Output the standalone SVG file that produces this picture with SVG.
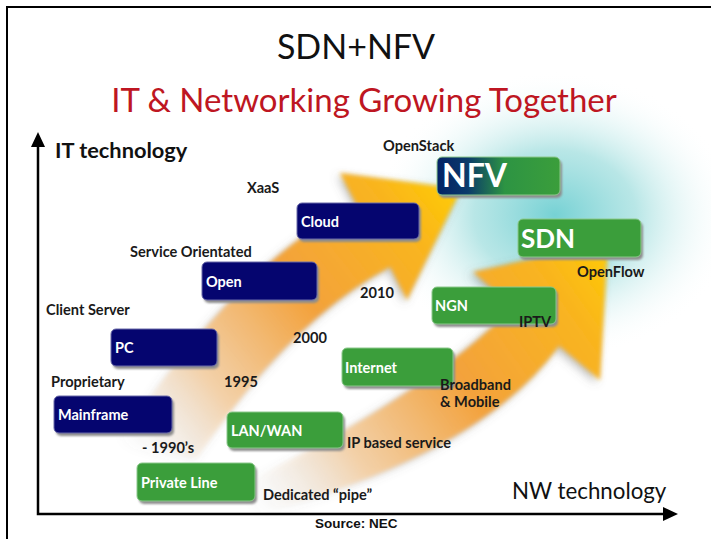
<svg xmlns="http://www.w3.org/2000/svg" width="711" height="539" viewBox="0 0 711 539">
<defs>
<style>
.lbl{font-family:Lato,"Open Sans","DejaVu Sans",sans-serif;font-weight:bold;font-size:14.6px;fill:#1a1a1a}
.nl{font-family:Lato,"Open Sans","DejaVu Sans",sans-serif;font-weight:bold;font-size:14.5px;fill:#fff}
.navy{fill:#05056f;stroke:#6b6ba8;stroke-width:1}
.green{fill:#3b9e3b;stroke:#8cc88c;stroke-width:1}
.shd{fill:#8d8d8d;filter:url(#bl)}
.axis{stroke:#000;stroke-width:2.5;fill:none}
</style>
<filter id="bl" x="-20%" y="-20%" width="140%" height="140%"><feGaussianBlur stdDeviation="1.2"/></filter>
<filter id="soft" x="-20%" y="-20%" width="140%" height="140%"><feGaussianBlur stdDeviation="2"/></filter>
<filter id="shadowblur" x="-20%" y="-20%" width="140%" height="140%"><feGaussianBlur stdDeviation="5"/></filter>
<radialGradient id="teal" cx="555" cy="215" r="180" gradientUnits="userSpaceOnUse" gradientTransform="translate(555 215) scale(1 0.8) translate(-555 -215)">
<stop offset="0" stop-color="#6fcfd2" stop-opacity="0.95"/>
<stop offset="0.45" stop-color="#9adcdc" stop-opacity="0.7"/>
<stop offset="1" stop-color="#ffffff" stop-opacity="0"/>
</radialGradient>
<linearGradient id="g1" gradientUnits="userSpaceOnUse" x1="130" y1="450" x2="460" y2="190">
<stop offset="0" stop-color="#ffffff" stop-opacity="0"/>
<stop offset="0.25" stop-color="#f7cfa0" stop-opacity="0.85"/>
<stop offset="0.55" stop-color="#f3a23c"/>
<stop offset="0.85" stop-color="#f9b51e"/>
<stop offset="1" stop-color="#ffcc00"/>
</linearGradient>
<linearGradient id="g2" gradientUnits="userSpaceOnUse" x1="250" y1="500" x2="610" y2="245">
<stop offset="0" stop-color="#ffffff" stop-opacity="0"/>
<stop offset="0.25" stop-color="#f7cfa0" stop-opacity="0.85"/>
<stop offset="0.55" stop-color="#f3a23c"/>
<stop offset="0.85" stop-color="#f9b51e"/>
<stop offset="1" stop-color="#ffcc00"/>
</linearGradient>
<linearGradient id="s1" gradientUnits="userSpaceOnUse" x1="130" y1="450" x2="460" y2="190">
<stop offset="0" stop-color="#666" stop-opacity="0"/>
<stop offset="0.4" stop-color="#666" stop-opacity="0.35"/>
<stop offset="1" stop-color="#666" stop-opacity="0.45"/>
</linearGradient>
<linearGradient id="s2" gradientUnits="userSpaceOnUse" x1="250" y1="500" x2="610" y2="245">
<stop offset="0" stop-color="#666" stop-opacity="0"/>
<stop offset="0.4" stop-color="#666" stop-opacity="0.35"/>
<stop offset="1" stop-color="#666" stop-opacity="0.45"/>
</linearGradient>
<linearGradient id="nfvg" x1="0" y1="0" x2="1" y2="0">
<stop offset="0" stop-color="#042266"/>
<stop offset="0.25" stop-color="#0b3a6a"/>
<stop offset="0.55" stop-color="#2d9443"/>
<stop offset="1" stop-color="#3b9e3b"/>
</linearGradient>
</defs>

<rect width="711" height="539" fill="#fff"/>

<!-- background glow and arrows -->
<g id="background">
<ellipse cx="555" cy="215" rx="180" ry="145" fill="url(#teal)"/>
<path d="M118,442 Q250,250 357,206 L340,173 L461,189 L407,300 L390,267 Q290,320 197,458 Z" fill="url(#s1)" filter="url(#shadowblur)" transform="translate(-3,3)"/>
<path d="M118,442 Q250,250 357,206 L340,173 L461,189 L407,300 L390,267 Q290,320 197,458 Z" fill="url(#g1)" filter="url(#soft)"/>
<path d="M250,480 Q430,392 513,307 L473,272 L608,242 L600,380 L559,346 Q480,455 255,515 Z" fill="url(#s2)" filter="url(#shadowblur)" transform="translate(-4,3)"/>
<path d="M250,480 Q430,392 513,307 L473,272 L608,242 L600,380 L559,346 Q480,455 255,515 Z" fill="url(#g2)" filter="url(#soft)"/>
</g>

<!-- frame -->
<path d="M7,539 L7,7 L711,7" fill="none" stroke="#000" stroke-width="2"/>

<!-- titles -->
<text x="356" y="59" text-anchor="middle" font-family="Lato,'Open Sans',sans-serif" font-size="34" fill="#111">SDN+NFV</text>
<text x="364" y="112" text-anchor="middle" font-family="Lato,'Open Sans',sans-serif" font-size="33" fill="#be1622">IT &amp; Networking Growing Together</text>

<!-- axes -->
<g id="connectors">
<polyline class="axis" points="38,146 38,514 664,514"/>
<polygon points="38,132 31,147 45,147" fill="#000"/>
<polygon points="678,514 663,507 663,521" fill="#000"/>
</g>
<text x="55" y="158" font-family="Lato,'Open Sans',sans-serif" font-weight="bold" font-size="21.8" fill="#111">IT technology</text>
<text x="512" y="499" font-family="Lato,'Open Sans',sans-serif" font-size="22.3" fill="#111">NW technology</text>
<text x="315" y="528" font-family="'Liberation Sans',Arial,sans-serif" font-weight="bold" font-size="13.5" fill="#111">Source: NEC</text>

<!-- nodes -->
<g id="node-cloud"><rect class="shd" x="299" y="206" width="122" height="36" rx="5"/><rect class="navy" x="297" y="203" width="122" height="36" rx="5"/><text class="nl" x="301" y="227">Cloud</text></g>
<g id="node-open"><rect class="shd" x="204" y="265" width="115" height="38" rx="5"/><rect class="navy" x="202" y="262" width="115" height="38" rx="5"/><text class="nl" x="206" y="287">Open</text></g>
<g id="node-pc"><rect class="shd" x="113" y="332" width="106" height="37" rx="5"/><rect class="navy" x="111" y="329" width="106" height="37" rx="5"/><text class="nl" x="115" y="353">PC</text></g>
<g id="node-mainframe"><rect class="shd" x="56" y="399" width="118" height="37" rx="5"/><rect class="navy" x="54" y="396" width="118" height="37" rx="5"/><text class="nl" x="58" y="420">Mainframe</text></g>
<g id="node-privateline"><rect class="shd" x="139" y="466" width="118" height="38" rx="5"/><rect class="green" x="137" y="463" width="118" height="38" rx="5"/><text class="nl" x="141" y="488">Private Line</text></g>
<g id="node-lanwan"><rect class="shd" x="229" y="415" width="116" height="36" rx="5"/><rect class="green" x="227" y="412" width="116" height="36" rx="5"/><text class="nl" x="231" y="436">LAN/WAN</text></g>
<g id="node-internet"><rect class="shd" x="344" y="351" width="111" height="38" rx="5"/><rect class="green" x="342" y="348" width="111" height="38" rx="5"/><text class="nl" x="345" y="373">Internet</text></g>
<g id="node-ngn"><rect class="shd" x="434" y="290" width="124" height="37" rx="5"/><rect class="green" x="432" y="287" width="124" height="37" rx="5"/><text class="nl" x="435" y="311">NGN</text></g>
<g id="node-nfv"><rect class="shd" x="439" y="160" width="123" height="38" rx="5"/><rect x="437" y="157" width="123" height="38" rx="5" fill="url(#nfvg)" stroke="#8cc88c" stroke-width="1"/><text x="442" y="187" font-family="Lato,'Open Sans',sans-serif" font-weight="bold" font-size="32" fill="#fff">NFV</text></g>
<g id="node-sdn"><rect class="shd" x="520" y="222" width="123" height="38" rx="5"/><rect class="green" x="518" y="219" width="123" height="38" rx="5"/><text x="521" y="248" font-family="Lato,'Open Sans',sans-serif" font-weight="bold" font-size="26" fill="#fff">SDN</text></g>

<!-- labels -->
<g id="labels">
<text class="lbl" x="247" y="193">XaaS</text>
<text class="lbl" x="130" y="257">Service Orientated</text>
<text class="lbl" x="46" y="315">Client Server</text>
<text class="lbl" x="51" y="387">Proprietary</text>
<text class="lbl" x="142" y="453">- 1990’s</text>
<text class="lbl" x="224" y="387">1995</text>
<text class="lbl" x="293" y="343">2000</text>
<text class="lbl" x="360" y="298">2010</text>
<text class="lbl" x="383" y="151">OpenStack</text>
<text class="lbl" x="577" y="277">OpenFlow</text>
<text class="lbl" x="519" y="327">IPTV</text>
<text class="lbl" x="440" y="390">Broadband</text>
<text class="lbl" x="440" y="407">&amp; Mobile</text>
<text class="lbl" x="347" y="448">IP based service</text>
<text class="lbl" x="263" y="500">Dedicated “pipe”</text>
</g>
</svg>
